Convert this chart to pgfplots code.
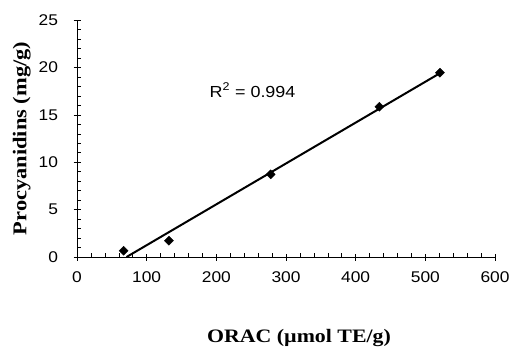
\documentclass[border=0pt]{standalone}
\usepackage{fontspec}
\setmainfont{Liberation Serif}
\newfontfamily\tickfont[FakeStretch=1.12]{Liberation Sans}
\newfontfamily\labfont[FakeStretch=1.15]{Liberation Serif}
\usepackage{pgfplots}
\pgfplotsset{compat=1.18}
\begin{document}
\begin{tikzpicture}
\begin{axis}[
  name=ax,
  scale only axis,
  width=418pt, height=237pt,
  xmin=0, xmax=600, ymin=0, ymax=25,
  axis lines*=left,
  axis line style={-, line width=0.6pt},
  xtick={0,100,...,600}, ytick={0,5,...,25},
  minor x tick num=4, minor y tick num=4,
  tick align=center,
  major tick length=7pt, minor tick length=4pt,
  tick style={black, line width=0.5pt},
  every minor y tick/.append style={xshift=2pt},
  every minor x tick/.append style={yshift=2pt},
  /pgf/number format/assume math mode=true,
  ticklabel style={font=\tickfont\fontsize{15.5}{15.5}\selectfont},
  xticklabel style={yshift=-8pt},
  yticklabel style={xshift=-12pt},
  xlabel={ORAC (µmol TE/g)},
  ylabel={Procyanidins (mg/g)},
  xlabel style={font=\labfont\bfseries\fontsize{19}{19}\selectfont, at={(axis description cs:0.5,0)}, anchor=base, yshift=-85pt, xshift=13pt},
  ylabel style={font=\labfont\bfseries\fontsize{19.5}{19.5}\selectfont},
  ylabel shift=1pt,
  clip=false,
]
\addplot[black, line width=2pt, no marks] coordinates {(71.1,0) (521,19.39)};
\addplot[only marks, mark=square*, mark size=3.2pt, mark options={rotate=45, fill=black, draw=black}] coordinates {
(67,0.66) (132,1.72) (278,8.72) (434,15.85) (521,19.44)};
\node[font=\tickfont\fontsize{16}{16}\selectfont, anchor=center] at (axis cs:252,17.6) {R\textsuperscript{2} = 0.994};
\end{axis}
\pgfresetboundingbox
\path ([xshift=-77pt,yshift=-90pt]ax.south west) rectangle ([xshift=15pt,yshift=20pt]ax.north east);
\end{tikzpicture}
\end{document}
